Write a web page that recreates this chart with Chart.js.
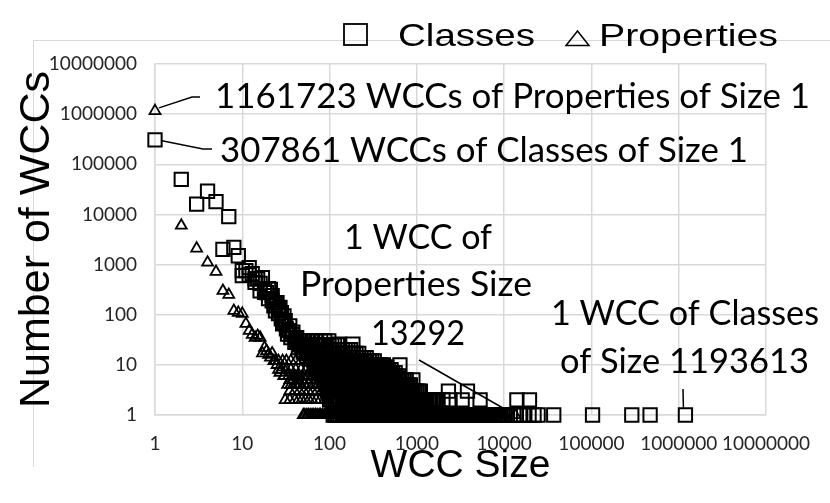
<!DOCTYPE html>
<html>
<head>
<meta charset="utf-8">
<script src="https://cdn.jsdelivr.net/npm/chart.js@4.4.1/dist/chart.umd.min.js"></script>
<style>
  html, body { margin: 0; padding: 0; background: #fff; }
</style>
</head>
<body>
<canvas id="wccChart" width="830" height="503"></canvas>
<script>
// axis ticks
const xTicks = [1, 10, 100, 1000, 10000, 100000, 1000000, 10000000];
const yTicks = [1, 10, 100, 1000, 10000, 100000, 1000000, 10000000];

// Classes: small sizes (top-left part of the cloud)
const classHeadSizes = [1, 2, 3, 4, 5, 6, 7, 8, 9, 10, 11, 12, 13, 14, 15, 16, 17, 18, 19, 20,
  21, 22, 23, 24, 25, 26, 27, 28, 29, 30, 31, 32, 33, 35, 36, 38, 40, 42, 44, 46,
  48, 50, 52, 55, 58, 60, 64, 68, 71, 75, 80, 84, 90, 130, 185,
  10, 12, 14, 16, 18, 20, 22, 24, 26, 28, 30, 34, 37, 41, 45];
const classHeadCounts = [307861, 50000, 16000, 29000, 18000, 2000, 9000, 2200, 1500, 600,
  760, 870, 660, 440, 520, 300, 550, 330, 275, 210,
  320, 190, 150, 120, 175, 105, 140, 83, 66, 95,
  76, 52, 41, 60, 35, 45, 28, 35, 22, 30,
  24, 18, 26, 15, 20, 13, 17, 11, 12, 9,
  13, 8, 10, 26, 26,
  760, 620, 520, 420, 280, 330, 240, 160, 130, 110, 70, 48, 40, 32, 26];

// Classes: sizes seen with a given small count (the dense band)
const classRowCounts = [1, 2, 3, 4, 5, 6, 7, 8, 9, 10, 12, 14, 17, 20, 25, 30];
const classSizesAt1 = [110, 115, 121, 126, 132, 139, 145, 152, 160, 167, 175, 184, 193, 202, 211,
  222, 232, 243, 255, 267, 280, 293, 307, 322, 337, 353, 370, 388, 406, 426, 446, 467, 489,
  513, 537, 563, 590, 618, 647, 678, 710, 744, 780, 817, 856, 897, 940, 985, 1032, 1081,
  1133, 1187, 1243, 1303, 1365, 1430, 1498, 1570, 1645, 1723, 1805, 1892, 1982, 2076, 2175,
  2279, 2388, 2502, 2621, 2746, 2877, 3015, 3158, 3309, 3467, 3632, 3806, 3987, 4177, 4377,
  4586, 4804, 5034, 5274, 5526, 5789, 6066, 6355, 6658, 6976, 7309, 7658, 8023, 8406, 8807,
  9228, 9668, 10130, 10900, 12900, 13800, 15100, 16700, 19300, 22000, 24500, 37000, 103000,
  290000, 470000, 1193613];
const classSizesAt2 = [100, 105, 110, 115, 121, 127, 133, 139, 146, 153, 160, 168, 176, 184, 193,
  202, 212, 222, 233, 244, 256, 268, 281, 294, 308, 323, 338, 355, 372, 390, 408, 428, 448,
  470, 492, 516, 541, 567, 594, 622, 652, 683, 716, 750, 786, 824, 863, 905, 948, 993, 1040,
  1090, 1142, 1197, 1254, 1314, 1377, 1443, 1512, 1584, 1660, 1750, 1990, 2400, 3300, 5300,
  14000, 19500];
const classSizesAt3 = [95, 100, 105, 110, 115, 121, 127, 133, 139, 146, 153, 160, 168, 176, 185,
  194, 203, 213, 223, 234, 245, 257, 269, 282, 296, 310, 325, 340, 357, 374, 392, 410, 430,
  451, 472, 495, 519, 543, 569, 597, 625, 655, 687, 720, 754, 790, 828, 868, 909, 953, 999,
  1047, 1097, 2300, 3800];
const classSizesAt4 = [90, 95, 100, 106, 112, 118, 124, 131, 138, 146, 154, 162, 171, 180, 190,
  200, 211, 223, 235, 248, 261, 276, 291, 307, 323, 341, 360, 379, 400, 422, 445, 469, 495,
  522, 550, 580, 612, 645, 681, 718, 757, 798, 842];
const classSizesAt5 = [85, 90, 95, 101, 107, 113, 119, 126, 133, 141, 149, 157, 166, 175, 185,
  195, 206, 218, 230, 243, 256, 271, 286, 302, 318, 336, 355, 374, 395, 417, 440, 465, 490,
  518, 546, 577, 609, 643, 678, 716, 756, 900];
const classSizesAt6 = [80, 85, 91, 97, 104, 111, 119, 127, 136, 145, 155, 165, 177, 189, 201,
  215, 230, 246, 262, 280, 299, 320, 341, 365, 389, 416, 444, 474, 507, 541, 578, 617];
const classSizesAt7 = [78, 83, 89, 95, 102, 109, 116, 124, 133, 142, 151, 162, 173, 184, 197,
  210, 225, 240, 256, 274, 292, 312, 333, 356, 380, 406, 434, 463, 495, 528, 564];
const classSizesAt8 = [75, 80, 86, 92, 98, 105, 112, 119, 128, 136, 146, 155, 166, 177, 189,
  202, 216, 231, 246, 263, 281, 300, 320, 342, 365, 390, 416, 445, 475, 507];
const classSizesAt9 = [72, 77, 82, 88, 94, 100, 107, 114, 122, 130, 139, 148, 158, 169, 181,
  193, 206, 220, 235, 251, 268, 286, 305, 326, 348, 372, 397, 424, 453];
const classSizesAt10 = [70, 75, 80, 85, 91, 97, 104, 111, 119, 127, 135, 145, 154, 165, 176,
  188, 201, 215, 229, 245, 261, 279, 298, 318, 340, 363, 388, 414, 640];
const classSizesAt12 = [66, 71, 76, 81, 87, 93, 99, 106, 113, 121, 129, 138, 148, 158, 169,
  180, 192, 205, 219, 234, 250, 267, 285, 304, 325];
const classSizesAt14 = [62, 67, 72, 77, 83, 89, 95, 102, 109, 117, 125, 134, 143, 153, 164,
  175, 188, 201, 215, 230, 246, 263];
const classSizesAt17 = [56, 60, 65, 70, 75, 81, 87, 93, 100, 107, 115, 123, 132, 142, 152,
  163, 175, 188, 201, 216];
const classSizesAt20 = [50, 55, 59, 64, 69, 74, 80, 86, 92, 99, 106, 114, 122, 131, 141, 151,
  162, 174];
const classSizesAt25 = [46, 50, 54, 58, 63, 68, 73, 79, 85, 91, 98, 106, 114, 123];
const classSizesAt30 = [42, 47, 52, 58, 64, 71, 79, 88, 98];

// Properties: small sizes
const propHeadSizes = [1, 2, 3, 4, 5, 6, 7, 8, 9, 10, 11, 12, 13, 14, 15, 16, 17, 18, 19, 20,
  21, 22, 24, 25, 26, 27, 29, 30, 33, 35, 38, 40, 42, 45];
const propHeadCounts = [1161723, 6000, 2100, 1100, 720, 300, 250, 120, 110, 105,
  66, 48, 40, 35, 38, 35, 17, 22, 19, 16,
  14, 17, 12, 10, 8, 7, 9, 6, 4, 5, 5, 6, 4, 4];

// Properties: the dense band
const propRowCounts = [1, 2, 3, 4, 5, 6, 8, 12];
const propSizesAt1 = [50, 52, 55, 57, 60, 63, 66, 69, 72, 76, 79, 83, 87, 91, 95, 100, 105, 110,
  115, 120, 126, 132, 138, 145, 152, 159, 166, 174, 183, 191, 200, 210, 220, 230, 241, 253,
  265, 277, 290, 304, 319, 334, 350, 366, 384, 402, 421, 441, 462, 484, 507, 531, 556, 583,
  610, 640, 670, 702, 735, 770, 807, 845, 885, 928, 972, 1018, 1066, 1117, 1170, 1226, 1284,
  1345, 1409, 1476, 1547, 1620, 1697, 1778, 1863, 1951, 2044, 2142, 2244, 2350, 2462, 2580,
  2702, 2831, 2966, 3107, 3255, 3410, 3572, 3742, 3921, 4107, 4303, 4508, 4723, 4947, 5183,
  5430, 5688, 5959, 6243, 6540, 6852, 7178, 7520, 7878, 8253, 8646, 9058, 9489, 9941, 13292];
const propSizesAt2 = [31, 35, 40, 44, 48, 53, 58, 63, 70, 78, 88, 97, 108, 120, 134, 150, 167,
  186, 208, 232, 260, 290, 330, 380, 450, 550];
const propSizesAt3 = [35, 40, 45, 51, 57, 64, 72, 81, 91, 102, 115, 130, 148, 170, 200, 240];
const propSizesAt4 = [36, 41, 46, 52, 58, 66, 74, 83, 94, 106];
const propSizesAt5 = [38, 43, 48, 54, 61, 69, 78, 88, 100, 115, 135];
const propSizesAt6 = [30, 34, 38, 43, 49, 55, 62, 70, 79, 90];
const propSizesAt8 = [28, 32, 36, 41, 47, 54, 62, 72];
const propSizesAt12 = [23, 26, 29, 32, 36, 41, 47];

function buildPoints(headSizes, headCounts, rowCounts, rows) {
  const pts = headSizes.map((s, i) => ({ x: s, y: headCounts[i] }));
  rows.forEach((sizes, r) => {
    sizes.forEach((s) => pts.push({ x: s, y: rowCounts[r] }));
  });
  return pts;
}

const classPoints = buildPoints(classHeadSizes, classHeadCounts, classRowCounts, [
  classSizesAt1, classSizesAt2, classSizesAt3, classSizesAt4, classSizesAt5, classSizesAt6,
  classSizesAt7, classSizesAt8, classSizesAt9, classSizesAt10, classSizesAt12, classSizesAt14,
  classSizesAt17, classSizesAt20, classSizesAt25, classSizesAt30]);
const propPoints = buildPoints(propHeadSizes, propHeadCounts, propRowCounts, [
  propSizesAt1, propSizesAt2, propSizesAt3, propSizesAt4, propSizesAt5, propSizesAt6,
  propSizesAt8, propSizesAt12]);

const maxClassSize = Math.max(...classSizesAt1);
const maxPropSize = Math.max(...propSizesAt1);

// draw text stretched to a given width
function fitText(ctx, text, x, baseline, size, family, width) {
  ctx.font = `${size}px ${family}`;
  const w = ctx.measureText(text).width;
  ctx.save();
  ctx.translate(x, baseline);
  ctx.scale(width / w, 1);
  ctx.textAlign = 'left';
  ctx.textBaseline = 'alphabetic';
  ctx.fillText(text, 0, 0);
  ctx.restore();
}

function line(ctx, pts) {
  ctx.beginPath();
  ctx.moveTo(pts[0][0], pts[0][1]);
  pts.slice(1).forEach((p) => ctx.lineTo(p[0], p[1]));
  ctx.stroke();
}

const notesPlugin = {
  id: 'wccNotes',
  beforeDraw(chart) {
    const ctx = chart.ctx;
    ctx.save();
    ctx.fillStyle = '#fff';
    ctx.fillRect(0, 0, chart.width, chart.height);
    // leftover frame lines
    ctx.strokeStyle = '#d9d9d9';
    ctx.lineWidth = 1;
    line(ctx, [[33.5, 467], [33.5, 40.5], [830, 40.5]]);
    ctx.restore();
  },
  afterDatasetsDraw(chart) {
    const ctx = chart.ctx;
    const xs = chart.scales.x;
    const ys = chart.scales.y;
    ctx.save();
    ctx.strokeStyle = '#000';
    ctx.fillStyle = '#000';
    ctx.lineWidth = 1.5;

    // leader lines
    const px1 = xs.getPixelForValue(propHeadSizes[0]);
    const py1 = ys.getPixelForValue(propHeadCounts[0]);
    line(ctx, [[px1 + 4, py1 - 3], [192, 97], [200, 97]]);
    const cx1 = xs.getPixelForValue(classHeadSizes[0]);
    const cy1 = ys.getPixelForValue(classHeadCounts[0]);
    line(ctx, [[cx1 + 7, cy1 + 1], [203, 149], [212, 149]]);
    const yOne = ys.getPixelForValue(1);
    line(ctx, [[419, 360], [xs.getPixelForValue(maxPropSize) - 12, yOne - 7]]);
    line(ctx, [[683, 389], [xs.getPixelForValue(maxClassSize) - 2, yOne - 7]]);

    // annotation texts
    const f = 'Lato, "Open Sans", sans-serif';
    fitText(ctx, `${propHeadCounts[0]} WCCs of Properties of Size ${propHeadSizes[0]}`, 215, 108, 35, f, 595);
    fitText(ctx, `${classHeadCounts[0]} WCCs of Classes of Size ${classHeadSizes[0]}`, 220, 162, 35, f, 528);
    fitText(ctx, '1 WCC of', 344, 249, 35, f, 148);
    fitText(ctx, 'Properties Size', 300, 296, 35, f, 232);
    fitText(ctx, String(maxPropSize), 371, 345, 35, f, 94);
    fitText(ctx, '1 WCC of Classes', 551, 325, 35, f, 268);
    fitText(ctx, `of Size ${maxClassSize}`, 560, 373, 35, f, 249);

    // legend
    const lf = '"Liberation Sans", Arial, sans-serif';
    ctx.lineWidth = 1.8;
    ctx.strokeRect(344, 24, 23, 21);
    fitText(ctx, chart.data.datasets[0].label, 398, 46, 32, lf, 137);
    ctx.lineWidth = 1.5;
    ctx.beginPath();
    ctx.moveTo(566, 45.5);
    ctx.lineTo(589, 45.5);
    ctx.lineTo(577.5, 31);
    ctx.closePath();
    ctx.stroke();
    fitText(ctx, chart.data.datasets[1].label, 599, 46, 32, lf, 179);
    ctx.restore();
  },
};

const tickFont = { family: 'Lato, "Open Sans", sans-serif', size: 19 };

const ctx = document.getElementById('wccChart').getContext('2d');
const wccChart = new Chart(ctx, {
  type: 'scatter',
  data: {
    datasets: [
      {
        label: 'Classes',
        data: classPoints,
        pointStyle: 'rect',
        pointRadius: 9.4,
        pointHoverRadius: 9.4,
        borderColor: '#000',
        backgroundColor: 'rgba(0,0,0,0)',
        borderWidth: 2,
        pointBorderWidth: 2,
        clip: false,
      },
      {
        label: 'Properties',
        data: propPoints,
        pointStyle: 'triangle',
        pointRadius: 6.3,
        pointHoverRadius: 6.3,
        borderColor: '#000',
        backgroundColor: 'rgba(0,0,0,0)',
        borderWidth: 1.8,
        pointBorderWidth: 1.8,
        clip: false,
      },
    ],
  },
  options: {
    responsive: false,
    animation: false,
    devicePixelRatio: 1,
    layout: { padding: { top: 64, right: 64, left: 0, bottom: 0 } },
    plugins: {
      legend: { display: false },
      tooltip: { enabled: false },
    },
    scales: {
      x: {
        type: 'logarithmic',
        min: 1,
        max: 10000000,
        afterBuildTicks: (s) => { s.ticks = xTicks.map((v) => ({ value: v })); },
        afterFit: (s) => { s.height = 88; },
        grid: { color: '#d9d9d9', lineWidth: 1.5, drawTicks: false },
        border: { color: '#d9d9d9', width: 1.5 },
        ticks: {
          font: tickFont,
          color: '#262626',
          padding: 17,
          autoSkip: false,
          maxRotation: 0,
          callback: (v) => String(v),
        },
        title: {
          display: true,
          text: 'WCC Size',
          color: '#000',
          font: { family: '"Liberation Sans", Arial, sans-serif', size: 39 },
          padding: { top: 0, bottom: 13 },
        },
      },
      y: {
        type: 'logarithmic',
        min: 1,
        max: 10000000,
        afterBuildTicks: (s) => { s.ticks = yTicks.map((v) => ({ value: v })); },
        afterFit: (s) => { s.width = 155; },
        grid: { color: '#d9d9d9', lineWidth: 1.5, drawTicks: false },
        border: { color: '#d9d9d9', width: 1.5 },
        ticks: {
          font: tickFont,
          color: '#262626',
          padding: 18,
          autoSkip: false,
          callback: (v) => String(v),
        },
        title: {
          display: true,
          text: 'Number of WCCs',
          color: '#000',
          font: { family: '"Liberation Sans", Arial, sans-serif', size: 43 },
          padding: { top: 11, bottom: 0 },
        },
      },
    },
  },
  plugins: [notesPlugin],
});
</script>
</body>
</html>
